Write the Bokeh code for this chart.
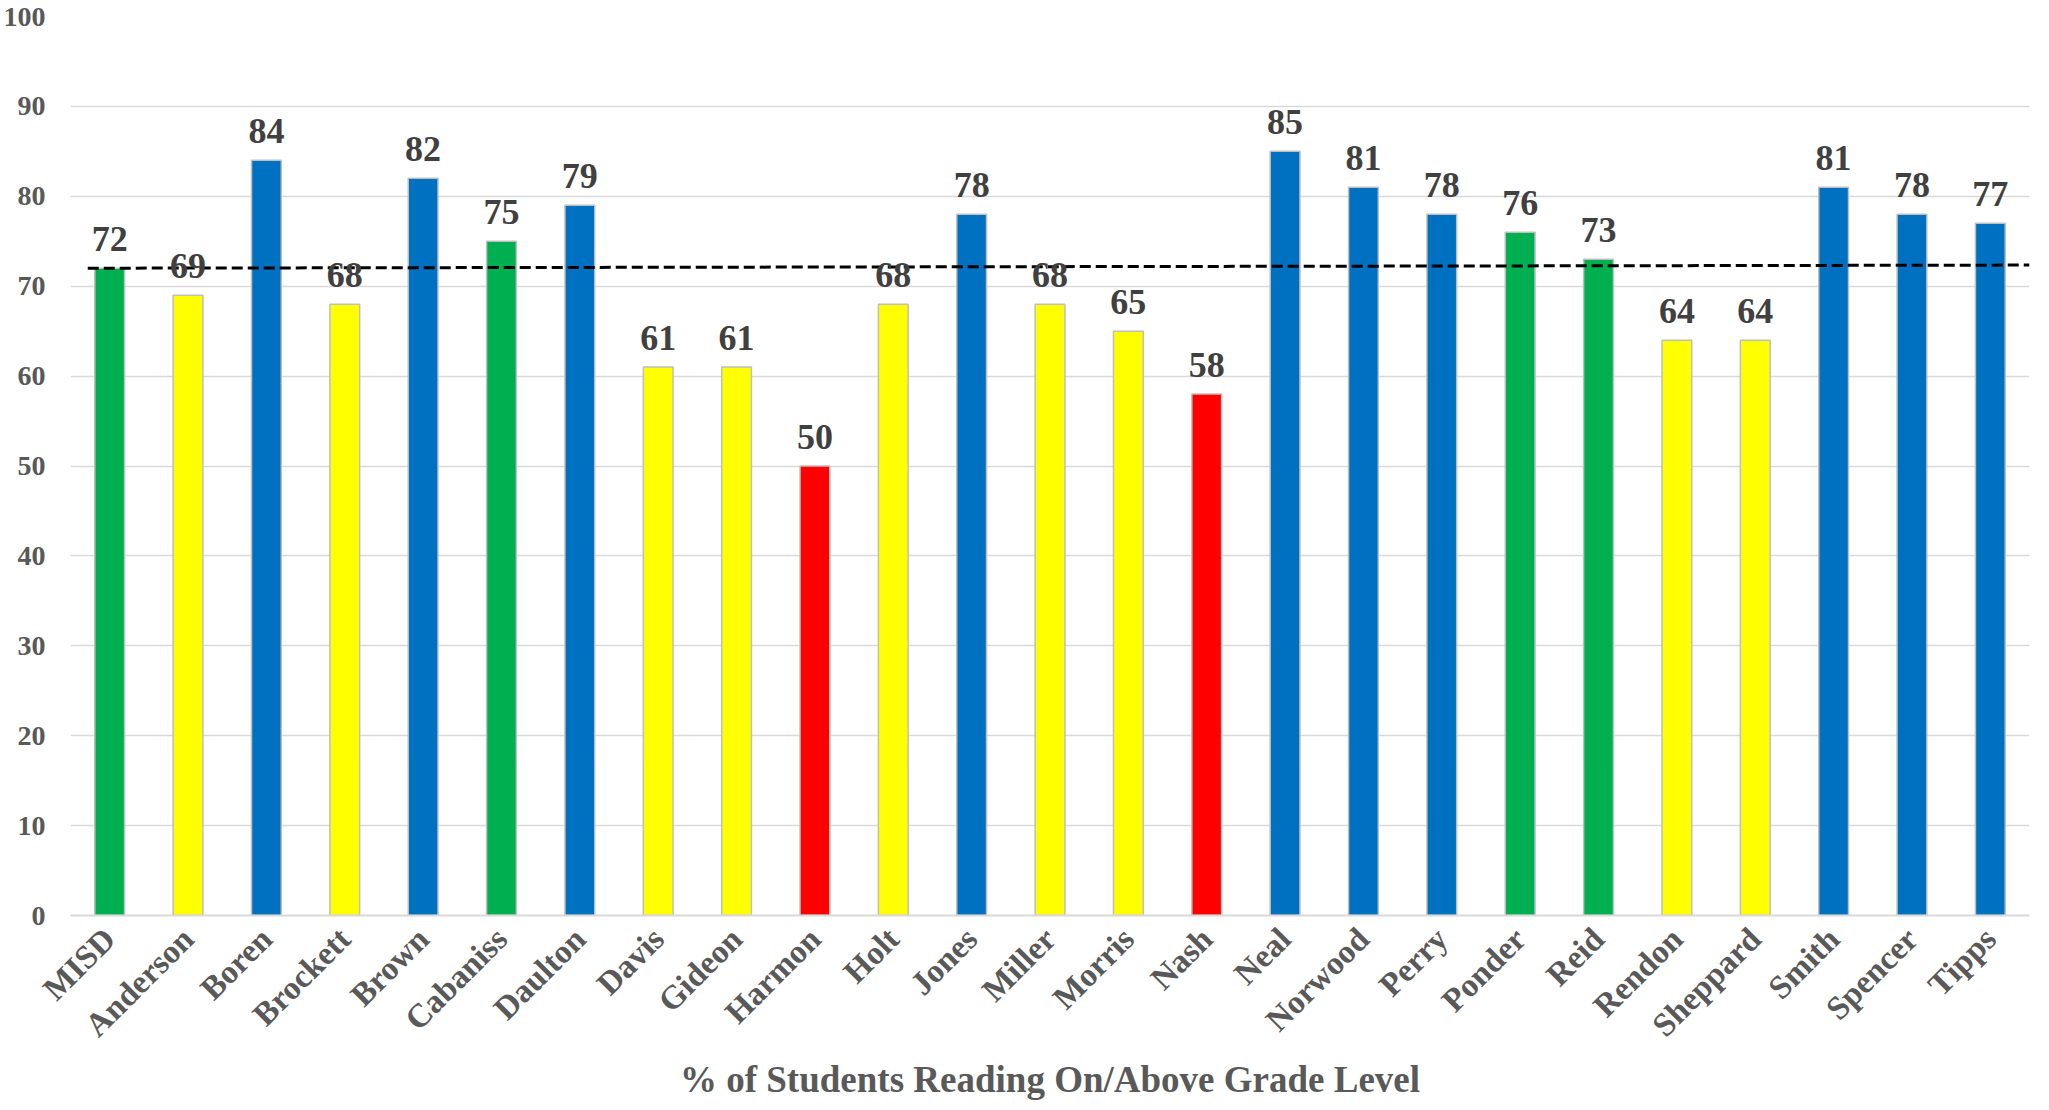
import math
from bokeh.plotting import figure
from bokeh.models import ColumnDataSource, LabelSet, SingleIntervalTicker, Range1d, FactorRange
from bokeh.embed import file_html
from bokeh.resources import INLINE

# ---- data ----
schools = ["MISD", "Anderson", "Boren", "Brockett", "Brown", "Cabaniss", "Daulton",
           "Davis", "Gideon", "Harmon", "Holt", "Jones", "Miller", "Morris", "Nash",
           "Neal", "Norwood", "Perry", "Ponder", "Reid", "Rendon", "Sheppard",
           "Smith", "Spencer", "Tipps"]
pct_reading = [72, 69, 84, 68, 82, 75, 79, 61, 61, 50, 68, 78, 68, 65, 58,
               85, 81, 78, 76, 73, 64, 64, 81, 78, 77]
levels = ["green", "yellow", "blue", "yellow", "blue", "green", "blue",
          "yellow", "yellow", "red", "yellow", "blue", "yellow", "yellow", "red",
          "blue", "blue", "blue", "green", "green", "yellow", "yellow",
          "blue", "blue", "blue"]
trend_start = 72.0
trend_end = 72.35
x_title = "% of Students Reading On/Above Grade Level"

palette = {"green": "#00B050", "yellow": "#FFFF00", "blue": "#0070C0", "red": "#FF0000"}

src = ColumnDataSource(dict(
    school=schools,
    value=pct_reading,
    color=[palette[l] for l in levels],
    label=[str(v) for v in pct_reading],
))

p = figure(x_range=FactorRange(*schools), y_range=Range1d(0, 100),
           width=2045, height=1109, output_backend="svg", toolbar_location=None,
           min_border_left=69, min_border_right=16, min_border_top=16, min_border_bottom=194)

p.vbar(x="school", top="value", width=0.38, fill_color="color",
       line_color="#BFBFBF", line_width=1.5, source=src)

p.line(x=[(schools[0], -0.28), (schools[-1], 0.5)], y=[trend_start, trend_end],
       line_color="black", line_width=3, line_dash="11 5")

labels = LabelSet(x="school", y="value", text="label", source=src,
                  text_align="center", text_baseline="alphabetic", y_offset=17,
                  text_font="Liberation Serif", text_font_style="bold",
                  text_font_size="36px", text_color="#404040")
p.add_layout(labels)

p.outline_line_color = None
p.xgrid.grid_line_color = None
p.ygrid.grid_line_color = "#D9D9D9"
p.ygrid.grid_line_width = 1.5

p.yaxis.ticker = SingleIntervalTicker(interval=10)
p.yaxis.axis_line_color = None
p.yaxis.major_tick_line_color = None
p.yaxis.minor_tick_line_color = None
p.yaxis.major_label_standoff = 19
p.yaxis.major_label_text_font = "Liberation Serif"
p.yaxis.major_label_text_font_style = "bold"
p.yaxis.major_label_text_font_size = "28px"
p.yaxis.major_label_text_color = "#595959"

p.xaxis.axis_line_color = "#D9D9D9"
p.xaxis.axis_line_width = 2
p.xaxis.major_tick_line_color = None
p.xaxis.minor_tick_line_color = None
p.xaxis.major_label_orientation = math.pi / 4
p.xaxis.major_label_standoff = 12
p.xaxis.major_label_text_font = "Liberation Serif"
p.xaxis.major_label_text_font_style = "bold"
p.xaxis.major_label_text_font_size = "33px"
p.xaxis.major_label_text_color = "#595959"
p.xaxis.axis_label = x_title
p.xaxis.axis_label_standoff = 0
p.xaxis.axis_label_text_font = "Liberation Serif"
p.xaxis.axis_label_text_font_style = "bold"
p.xaxis.axis_label_text_font_size = "37px"
p.xaxis.axis_label_text_color = "#595959"

open("out.html", "w").write(file_html(p, INLINE))
